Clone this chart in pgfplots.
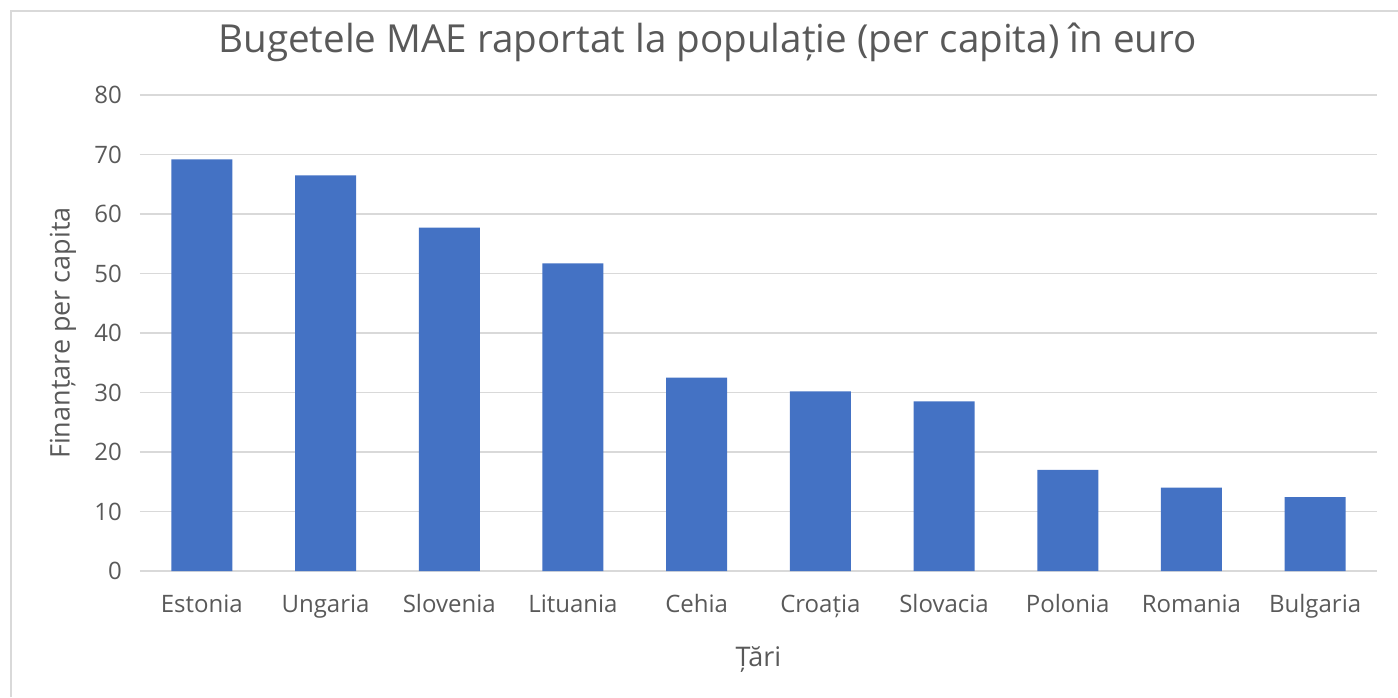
\documentclass[border=0pt]{standalone}
\usepackage{pgfplots}
\pgfplotsset{compat=1.18}
\usepackage{fontspec}
\setmainfont{Open Sans}
\definecolor{barblue}{HTML}{4472C4}
\definecolor{txtgray}{HTML}{595959}
\definecolor{gridgray}{HTML}{D9D9D9}
\begin{document}
\begin{tikzpicture}[x=1pt,y=1pt]
\begin{axis}[
  scale only axis, width=618.5pt, height=238pt,
  ymin=0, ymax=80, ytick={0,10,...,80},
  xmin=-0.5, xmax=9.5,
  xtick={0,...,9},
  xticklabels={Estonia,Ungaria,Slovenia,Lituania,Cehia,Croația,Slovacia,Polonia,Romania,Bulgaria},
  axis line style={draw=none},
  axis x line*=bottom,
  x axis line style={draw=gridgray, line width=0.8pt},
  major tick length=0pt,
  ymajorgrids, grid style={gridgray, line width=0.8pt},
  tick label style={text=txtgray, font=\fontsize{12}{14}\selectfont},
  /pgf/number format/assume math mode=true,
  yticklabel style={anchor=east, xshift=-5.5pt},
  xticklabel style={anchor=base, yshift=-20.5pt},
  xlabel={Țări}, ylabel={Finanțare per capita},
  label style={text=txtgray, font=\fontsize{13.5}{16}\selectfont},
  xlabel style={at={(axis description cs:0.5,-0.187)}, anchor=center},
  ylabel style={at={(axis description cs:-0.0622,0.5)}, anchor=center},
  title={Bugetele MAE raportat la populație (per capita) în euro},
  title style={text=txtgray, font=\fontsize{19.3}{22}\selectfont, at={(axis description cs:0.4588,1.1155)}, anchor=center, yshift=-7pt},
  clip=false,
]
\coordinate (ll) at (rel axis cs:0,0);
\addplot[ybar, bar width=30.5pt, fill=barblue, draw=none] coordinates {
(0,69.2) (1,66.5) (2,57.7) (3,51.7) (4,32.5) (5,30.2) (6,28.5) (7,17.0) (8,14.0) (9,12.4)};
\end{axis}
\begin{scope}[shift={(ll)}]
\path[use as bounding box] (-70,-63) rectangle (629,285.5);
\draw[gridgray, line width=1pt] (-64.5,-63) -- (-64.5,280) -- (629,280);
\end{scope}
\end{tikzpicture}
\end{document}
